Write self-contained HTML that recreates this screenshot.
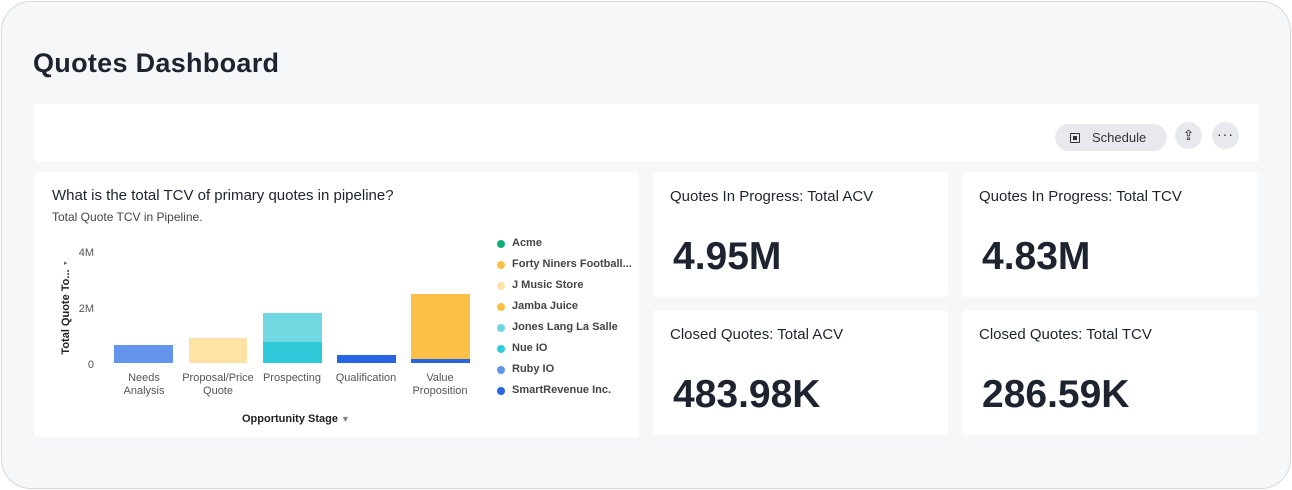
<!DOCTYPE html>
<html><head><meta charset="utf-8"><style>
*{margin:0;padding:0;box-sizing:border-box}
body{width:1292px;height:490px;background:#fff;font-family:"Liberation Sans",sans-serif;position:relative;overflow:hidden;color:#1d232f}
.frame{position:absolute;left:1px;top:1px;width:1290px;height:488px;border:1px solid #d6d8dd;border-radius:30px;background:#f6f7f9}
.abs{position:absolute}
.card{position:absolute;background:#fff;border-radius:3px}
.t{font-size:15px;color:#1d232f;white-space:nowrap}
.big{font-size:39px;color:#1d232f;font-weight:bold;letter-spacing:0}
.lg{position:absolute;left:497px;font-size:11px;color:#444;font-weight:bold}
.lg i{position:absolute;left:0;top:3px;width:8px;height:8px;border-radius:50%}
.lg span{position:absolute;left:15px;top:0;white-space:nowrap}
.xl{position:absolute;font-size:11px;color:#555;text-align:center;width:80px;line-height:13px}
</style></head><body>
<div class="frame"></div>
<div class="abs" style="left:33px;top:48px;font-size:27px;font-weight:bold;color:#1d232f;letter-spacing:0.3px">Quotes Dashboard</div>
<div class="card" style="left:34px;top:104px;width:1225px;height:58px"></div>
<div class="abs" style="left:1055px;top:124px;width:112px;height:27px;border-radius:14px;background:#e8e9ee;font-size:13px;color:#333">
<div class="abs" style="left:15px;top:9px;width:10px;height:10px;border:1.5px solid #333;border-radius:1px"></div>
<div class="abs" style="left:18px;top:12px;width:4px;height:4px;background:#333"></div>
<span class="abs" style="left:37px;top:6px">Schedule</span></div>
<div class="abs" style="left:1175px;top:122px;width:27px;height:27px;border-radius:50%;background:#e8e9ee;text-align:center;font-size:14px;line-height:27px;color:#222">⇪</div>
<div class="abs" style="left:1212px;top:122px;width:27px;height:27px;border-radius:50%;background:#e8e9ee;text-align:center;font-size:14px;line-height:24px;color:#222;letter-spacing:1px">···</div>

<div class="card" style="left:34px;top:172px;width:605px;height:265px"></div>
<div class="abs" style="left:52px;top:187px;font-size:15px;color:#1d232f">What is the total TCV of primary quotes in pipeline?</div>
<div class="abs" style="left:52px;top:210px;font-size:12px;color:#444">Total Quote TCV in Pipeline.</div>
<div class="abs" style="left:64px;top:247px;font-size:11px;color:#555;width:30px;text-align:right">4M</div>
<div class="abs" style="left:64px;top:303px;font-size:11px;color:#555;width:30px;text-align:right">2M</div>
<div class="abs" style="left:64px;top:359px;font-size:11px;color:#555;width:30px;text-align:right">0</div>
<div class="abs" style="left:16px;top:306px;transform:rotate(-90deg);transform-origin:center;font-size:11px;font-weight:bold;color:#222;width:100px;text-align:center;white-space:nowrap">Total Quote To...</div>
<div class="abs" style="left:64px;top:259px;font-size:7px;color:#666">▸</div>
<div class="abs" style="left:114px;top:345px;width:59px;height:18px;background:#6495ed"></div>
<div class="abs" style="left:189px;top:338px;width:58px;height:25px;background:#fde4a6"></div>
<div class="abs" style="left:263px;top:313px;width:59px;height:29px;background:#71d8e1"></div>
<div class="abs" style="left:263px;top:342px;width:59px;height:21px;background:#2ecad9"></div>
<div class="abs" style="left:337px;top:355px;width:59px;height:8px;background:#2765e3"></div>
<div class="abs" style="left:411px;top:294px;width:59px;height:65px;background:#fdc046"></div>
<div class="abs" style="left:411px;top:359px;width:59px;height:4px;background:#2765e3"></div>
<div class="xl" style="left:104px;top:372px">Needs<br>Analysis</div>
<div class="xl" style="left:178px;top:372px">Proposal/Price<br>Quote</div>
<div class="xl" style="left:252px;top:372px">Prospecting</div>
<div class="xl" style="left:326px;top:372px">Qualification</div>
<div class="xl" style="left:400px;top:372px">Value<br>Proposition</div>
<div class="abs" style="left:242px;top:413px;font-size:11px;font-weight:bold;color:#222">Opportunity Stage <span style="color:#888;font-size:9px">▼</span></div>
<div class="lg" style="top:237px"><i style="background:#10b07a"></i><span>Acme</span></div>
<div class="lg" style="top:258px"><i style="background:#fdc046"></i><span>Forty Niners Football...</span></div>
<div class="lg" style="top:279px"><i style="background:#fde4a6"></i><span>J Music Store</span></div>
<div class="lg" style="top:300px"><i style="background:#fdc046"></i><span>Jamba Juice</span></div>
<div class="lg" style="top:321px"><i style="background:#71d8e1"></i><span>Jones Lang La Salle</span></div>
<div class="lg" style="top:342px"><i style="background:#2ecad9"></i><span>Nue IO</span></div>
<div class="lg" style="top:363px"><i style="background:#6495ed"></i><span>Ruby IO</span></div>
<div class="lg" style="top:384px"><i style="background:#2765e3"></i><span>SmartRevenue Inc.</span></div>

<div class="card" style="left:653px;top:172px;width:295px;height:125px"><div class="abs t" style="left:17px;top:16px">Quotes In Progress: Total ACV</div><div class="abs big" style="left:20px;top:63px">4.95M</div></div>
<div class="card" style="left:962px;top:172px;width:296px;height:125px"><div class="abs t" style="left:17px;top:16px">Quotes In Progress: Total TCV</div><div class="abs big" style="left:20px;top:63px">4.83M</div></div>
<div class="card" style="left:653px;top:310px;width:295px;height:125px"><div class="abs t" style="left:17px;top:16px">Closed Quotes: Total ACV</div><div class="abs big" style="left:20px;top:63px">483.98K</div></div>
<div class="card" style="left:962px;top:310px;width:296px;height:125px"><div class="abs t" style="left:17px;top:16px">Closed Quotes: Total TCV</div><div class="abs big" style="left:20px;top:63px">286.59K</div></div>
</body></html>
